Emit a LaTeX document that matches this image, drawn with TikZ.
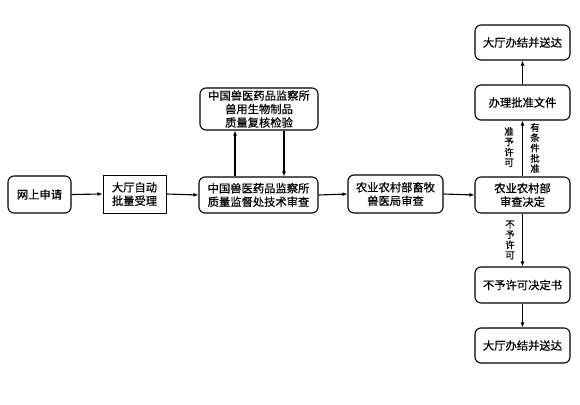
\documentclass[tikz,border=0pt]{standalone}
\usepackage{fontspec}
\setmainfont{Noto Sans CJK SC}[FakeBold=0.7]
\usetikzlibrary{arrows.meta}
\begin{document}
\begin{tikzpicture}[x=1pt,y=-1pt,
  box/.style={draw=black,line width=1.1pt,rounded corners=6pt,align=center,inner sep=1pt,
    font=\fontsize{11.3}{13.5}\selectfont},
  sbox/.style={box,rounded corners=0pt,line width=1pt},
  arr/.style={line width=1.1pt,-{Latex[length=5pt,width=4pt]}},
  vlab/.style={font=\fontsize{9.5}{10.3}\selectfont,align=center,inner sep=0pt}]
\useasboundingbox (0,0) rectangle (580,404);
\node[box,minimum width=63pt,minimum height=37pt] (a) at (39.5,194.5) {网上申请};
\node[sbox,minimum width=63pt,minimum height=38pt] (b) at (134.5,194) {大厅自动\\批量受理};
\node[box,minimum width=119pt,minimum height=36pt] (c) at (258.5,195) {中国兽医药品监察所\\质量监督处技术审查};
\node[box,minimum width=118pt,minimum height=42pt] (d) at (259,109) {中国兽医药品监察所\\兽用生物制品\\质量复核检验};
\node[box,minimum width=95pt,minimum height=38pt] (e) at (395.5,194) {农业农村部畜牧\\兽医局审查};
\node[box,minimum width=95pt,minimum height=36pt] (f) at (522.5,195) {农业农村部\\审查决定};
\node[box,minimum width=95pt,minimum height=35pt] (g) at (522.5,102.5) {办理批准文件};
\node[box,minimum width=95pt,minimum height=35pt] (h) at (522.5,42.5) {大厅办结并送达};
\node[box,minimum width=95pt,minimum height=36pt] (i) at (522.5,285) {不予许可决定书};
\node[box,minimum width=95pt,minimum height=35pt] (j) at (522.5,345.5) {大厅办结并送达};
\draw[arr] (a.east) -- (b.west);
\draw[arr] (b.east) -- (c.west);
\draw[arr] (c.east) -- (e.west);
\draw[arr] (e.east) -- (f.west);
\draw[arr] (c.north -| 235,0) -- (d.south -| 235,0);
\draw[arr] (d.south -| 284,0) -- (c.north -| 284,0);
\draw[arr] (f.north) -- (g.south);
\draw[arr] (g.north) -- (h.south);
\draw[arr] (f.south) -- (i.north);
\draw[arr] (i.south) -- (j.north);
\node[vlab] (l1) at (509,147) {准\\予\\许\\可};
\node[vlab] (l2) at (535,148) {有\\条\\件\\批\\准};
\node[vlab] (l3) at (510,240) {不\\予\\许\\可};
\end{tikzpicture}
\end{document}
